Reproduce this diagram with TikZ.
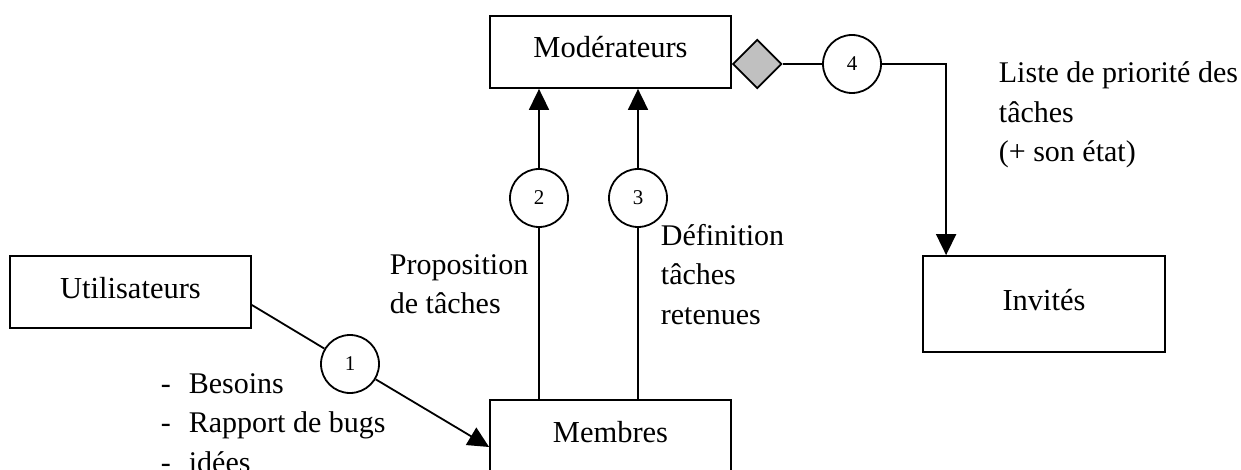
\documentclass[tikz,border=0pt]{standalone}
\usepackage{fontspec}
\setmainfont{Liberation Serif}
\usetikzlibrary{shapes.geometric,arrows.meta}
\definecolor{diam}{HTML}{C0C0C0}
\begin{document}
\begin{tikzpicture}[x=1pt,y=-1pt, line width=1.8pt,
  box/.style={draw, rectangle, minimum width=241pt, minimum height=72pt, inner sep=0pt,
    font=\fontsize{30.5}{39.5}\selectfont, text height=21pt, text depth=9pt},
  num/.style={draw, circle, minimum size=58pt, inner sep=0pt, fill=white,
    font=\fontsize{21}{24}\selectfont},
  lbl/.style={anchor=base west, inner sep=0pt, font=\fontsize{30}{39.5}\selectfont},
  arr/.style={-{Triangle[length=21pt,width=20pt]}}]
\useasboundingbox (0,0) rectangle (1241,470);
% boxes
\node[box] (mod) at (610.5,52) {Modérateurs};
\node[box] (util) at (130.5,292) {Utilisateurs};
\node[box] (memb) at (610.5,436) {Membres};
\node[box, minimum width=242pt, minimum height=96pt] (inv) at (1044,304) {Invités};
\node[diamond, draw, fill=diam, minimum width=49pt, minimum height=49pt, inner sep=0pt,
  anchor=west] (dia) at ([yshift=-12pt]mod.east) {};
% numbered circles
\node[num] (c1) at (350,364) {1};
\node[num] (c2) at (539,198) {2};
\node[num] (c3) at (638,198) {3};
\node[num] (c4) at (852,64) {4};
% connectors
\draw ([yshift=-13pt]util.east) -- (c1);
\draw[arr] (c1) -- ([yshift=-11pt]memb.west);
\draw (memb.north -| c2) -- (c2);
\draw[arr] (c2) -- (mod.south -| c2);
\draw (memb.north -| c3) -- (c3);
\draw[arr] (c3) -- (mod.south -| c3);
\draw (dia.east) -- (c4);
\draw[arr] (c4) -| ([xshift=24pt]inv.north west);
% labels
\node[lbl] (lprop) at (389,274) {\vtop{\hbox{Proposition}\hbox{de tâches}}};
\node[lbl] (ldef) at (660,245) {\vtop{\hbox{Définition}\hbox{tâches}\hbox{retenues}}};
\node[lbl] (lliste) at (998,83) {\vtop{\hbox{Liste de priorité des}\hbox{tâches}\hbox{(+ son état)}}};
\node[lbl] (lbes) at (160,393) {\vtop{\hbox{\makebox[28pt][l]{-}Besoins}\hbox{\makebox[28pt][l]{-}Rapport de bugs}\hbox{\makebox[28pt][l]{-}idées}}};
\end{tikzpicture}
\end{document}
